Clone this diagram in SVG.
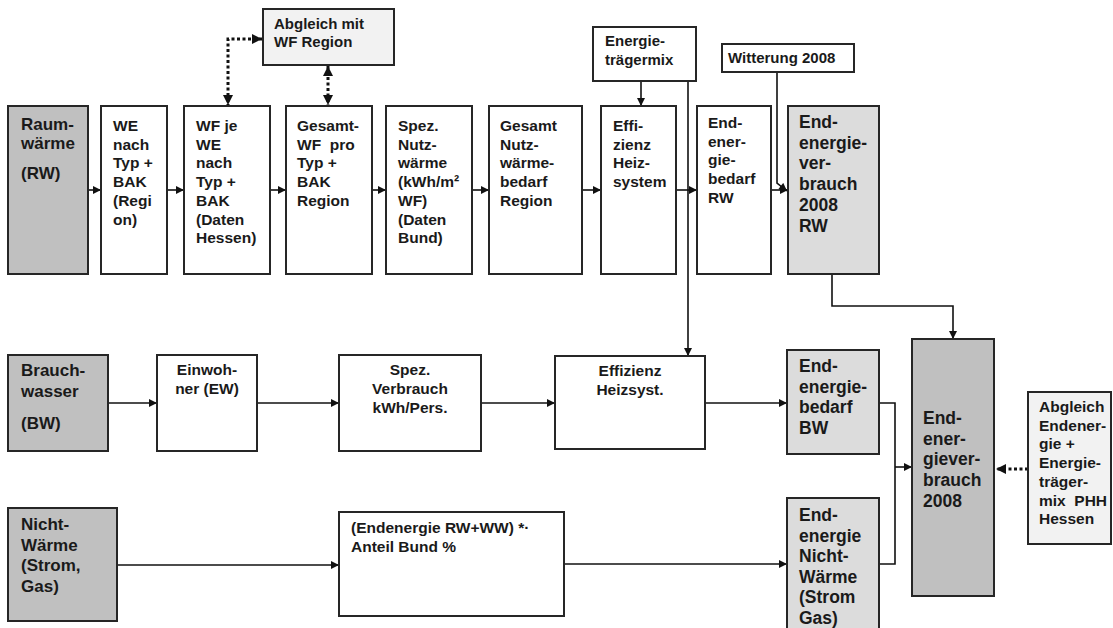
<svg xmlns="http://www.w3.org/2000/svg" width="1113" height="628" viewBox="0 0 1113 628">
<style>
  .box{stroke:#262626;stroke-width:2;}
  .w{fill:#ffffff;}
  .g1{fill:#c0c0c0;}
  .g2{fill:#dcdcdc;}
  .g3{fill:#f2f2f2;}
  text{font-family:"Liberation Sans",Arial,sans-serif;font-weight:bold;fill:#1a1a1a;white-space:pre;}
  .s{font-size:15.5px;}
  .m{font-size:15px;}
  .l{font-size:17px;}
  .xl{font-size:17.5px;}
  .c{text-anchor:middle;}
  .ln{fill:none;stroke:#111;stroke-width:1.6;}
  .dot{fill:none;stroke:#111;stroke-width:3;stroke-dasharray:3 2.5;}
</style>
<defs>
  <marker id="ah" viewBox="0 0 10 10" refX="10" refY="5" markerWidth="9" markerHeight="8" markerUnits="userSpaceOnUse" orient="auto-start-reverse">
    <path d="M0,0 L10,5 L0,10 z" fill="#111"/>
  </marker>
  <marker id="ahd" viewBox="0 0 10 10" refX="10" refY="5" markerWidth="10" markerHeight="10" markerUnits="userSpaceOnUse" orient="auto-start-reverse">
    <path d="M0,0 L10,5 L0,10 z" fill="#111"/>
  </marker>
</defs>
<rect width="1113" height="628" fill="#ffffff"/>

<g id="connectors">
  <line class="ln" x1="88" y1="190" x2="101" y2="190" marker-end="url(#ah)"/>
  <line class="ln" x1="167" y1="190" x2="184" y2="190" marker-end="url(#ah)"/>
  <line class="ln" x1="270" y1="190" x2="286" y2="190" marker-end="url(#ah)"/>
  <line class="ln" x1="372" y1="190" x2="386" y2="190" marker-end="url(#ah)"/>
  <line class="ln" x1="472" y1="190" x2="489" y2="190" marker-end="url(#ah)"/>
  <line class="ln" x1="582" y1="190" x2="601" y2="190" marker-end="url(#ah)"/>
  <line class="ln" x1="676" y1="190" x2="697" y2="190" marker-end="url(#ah)"/>
  <line class="ln" x1="771" y1="190" x2="788" y2="190" marker-end="url(#ah)"/>
  <path class="ln" d="M777,72 V183 L787,191" marker-end="url(#ah)"/>
  <line class="ln" x1="641" y1="81" x2="641" y2="106" marker-end="url(#ah)"/>
  <line class="ln" x1="688" y1="81" x2="688" y2="356" marker-end="url(#ah)"/>
  <path class="dot" d="M262,39 H228 V105" marker-start="url(#ahd)" marker-end="url(#ahd)"/>
  <path class="dot" d="M328,66 V105" marker-start="url(#ahd)" marker-end="url(#ahd)"/>
  <path class="ln" d="M832,274 V306 H953 V339" marker-end="url(#ah)"/>
  <line class="ln" x1="108" y1="403" x2="157" y2="403" marker-end="url(#ah)"/>
  <line class="ln" x1="257" y1="403" x2="339" y2="403" marker-end="url(#ah)"/>
  <line class="ln" x1="481" y1="403" x2="555" y2="403" marker-end="url(#ah)"/>
  <line class="ln" x1="705" y1="403" x2="787" y2="403" marker-end="url(#ah)"/>
  <path class="ln" d="M879,403 H895 V564 H879"/>
  <line class="ln" x1="895" y1="467" x2="912" y2="467" marker-end="url(#ah)"/>
  <line class="ln" x1="117" y1="565" x2="339" y2="565" marker-end="url(#ah)"/>
  <line class="ln" x1="564" y1="564" x2="787" y2="564" marker-end="url(#ah)"/>
  <line class="dot" x1="1028" y1="469" x2="996" y2="469" marker-end="url(#ahd)"/>
</g>

<g id="n-raumwaerme">
  <rect class="box g1" x="8" y="106" width="80" height="168"/>
  <text class="l"><tspan x="21" y="130">Raum-</tspan><tspan x="21" y="149">wärme</tspan><tspan x="21" y="179">(RW)</tspan></text>
</g>
<g id="n-we">
  <rect class="box w" x="101" y="106" width="66" height="168"/>
  <text class="s"><tspan x="113" y="131">WE</tspan><tspan x="113" y="149.7">nach</tspan><tspan x="113" y="168.4">Typ +</tspan><tspan x="113" y="187.1">BAK</tspan><tspan x="113" y="205.8">(Regi</tspan><tspan x="113" y="224.5">on)</tspan></text>
</g>
<g id="n-wfje">
  <rect class="box w" x="184" y="106" width="86" height="168"/>
  <text class="s"><tspan x="196" y="131">WF je</tspan><tspan x="196" y="149.7">WE</tspan><tspan x="196" y="168.4">nach</tspan><tspan x="196" y="187.1">Typ +</tspan><tspan x="196" y="205.8">BAK</tspan><tspan x="196" y="224.5">(Daten</tspan><tspan x="196" y="243.2">Hessen)</tspan></text>
</g>
<g id="n-abgleich-wf">
  <rect class="box g3" x="263" y="9" width="131" height="56"/>
  <text class="m"><tspan x="274" y="29">Abgleich mit</tspan><tspan x="274" y="47">WF Region</tspan></text>
</g>
<g id="n-gesamtwf">
  <rect class="box w" x="286" y="106" width="86" height="168"/>
  <text class="s"><tspan x="297" y="131">Gesamt-</tspan><tspan x="297" y="149.7">WF  pro</tspan><tspan x="297" y="168.4">Typ +</tspan><tspan x="297" y="187.1">BAK</tspan><tspan x="297" y="205.8">Region</tspan></text>
</g>
<g id="n-speznutz">
  <rect class="box w" x="386" y="106" width="86" height="168"/>
  <text class="s"><tspan x="398" y="131">Spez.</tspan><tspan x="398" y="149.7">Nutz-</tspan><tspan x="398" y="168.4">wärme</tspan><tspan x="398" y="187.1">(kWh/m²</tspan><tspan x="398" y="205.8">WF)</tspan><tspan x="398" y="224.5">(Daten</tspan><tspan x="398" y="243.2">Bund)</tspan></text>
</g>
<g id="n-gesamtnutz">
  <rect class="box w" x="489" y="106" width="93" height="168"/>
  <text class="s"><tspan x="500" y="131">Gesamt</tspan><tspan x="500" y="149.7">Nutz-</tspan><tspan x="500" y="168.4">wärme-</tspan><tspan x="500" y="187.1">bedarf</tspan><tspan x="500" y="205.8">Region</tspan></text>
</g>
<g id="n-energietraegermix">
  <rect class="box w" x="593" y="27" width="103" height="54"/>
  <text class="m"><tspan x="605" y="46">Energie-</tspan><tspan x="605" y="64.5">trägermix</tspan></text>
</g>
<g id="n-effizienz-rw">
  <rect class="box w" x="601" y="106" width="75" height="168"/>
  <text class="s"><tspan x="613" y="131">Effi-</tspan><tspan x="613" y="149.7">zienz</tspan><tspan x="613" y="168.4">Heiz-</tspan><tspan x="613" y="187.1">system</tspan></text>
</g>
<g id="n-witterung">
  <rect class="box w" x="722" y="44" width="132" height="28"/>
  <text class="m"><tspan x="728" y="63">Witterung 2008</tspan></text>
</g>
<g id="n-endbedarf-rw">
  <rect class="box w" x="697" y="106" width="74" height="168"/>
  <text class="s"><tspan x="708" y="128">End-</tspan><tspan x="708" y="146.7">ener-</tspan><tspan x="708" y="165.4">gie-</tspan><tspan x="708" y="184.1">bedarf</tspan><tspan x="708" y="202.8">RW</tspan></text>
</g>
<g id="n-endverbrauch-rw">
  <rect class="box g2" x="788" y="106" width="91" height="168"/>
  <text class="xl"><tspan x="799" y="128">End-</tspan><tspan x="799" y="148.7">energie-</tspan><tspan x="799" y="169.4">ver-</tspan><tspan x="799" y="190.1">brauch</tspan><tspan x="799" y="210.8">2008</tspan><tspan x="799" y="231.5">RW</tspan></text>
</g>

<g id="n-brauchwasser">
  <rect class="box g1" x="8" y="355" width="100" height="96"/>
  <text class="l"><tspan x="21" y="376">Brauch-</tspan><tspan x="21" y="397">wasser</tspan><tspan x="21" y="429">(BW)</tspan></text>
</g>
<g id="n-einwohner">
  <rect class="box w" x="157" y="355" width="100" height="96"/>
  <text class="s c"><tspan x="207" y="375">Einwoh-</tspan><tspan x="207" y="394">ner (EW)</tspan></text>
</g>
<g id="n-spezverbrauch">
  <rect class="box w" x="339" y="355" width="142" height="96"/>
  <text class="s c"><tspan x="410" y="375">Spez.</tspan><tspan x="410" y="394">Verbrauch</tspan><tspan x="410" y="413">kWh/Pers.</tspan></text>
</g>
<g id="n-effizienz-bw">
  <rect class="box w" x="555" y="356" width="150" height="93"/>
  <text class="s c"><tspan x="630" y="376">Effizienz</tspan><tspan x="630" y="395">Heizsyst.</tspan></text>
</g>
<g id="n-endbedarf-bw">
  <rect class="box g2" x="787" y="350" width="92" height="104"/>
  <text class="xl"><tspan x="799" y="372">End-</tspan><tspan x="799" y="392.7">energie-</tspan><tspan x="799" y="413.4">bedarf</tspan><tspan x="799" y="434.1">BW</tspan></text>
</g>
<g id="n-endverbrauch">
  <rect class="box g1" x="912" y="339" width="82" height="257"/>
  <text class="xl"><tspan x="923" y="424">End-</tspan><tspan x="923" y="444.7">ener-</tspan><tspan x="923" y="465.4">giever-</tspan><tspan x="923" y="486.1">brauch</tspan><tspan x="923" y="506.8">2008</tspan></text>
</g>
<g id="n-abgleich-end">
  <rect class="box g3" x="1028" y="392" width="83" height="152"/>
  <text class="s"><tspan x="1039" y="412">Abgleich</tspan><tspan x="1039" y="430.7">Endener-</tspan><tspan x="1039" y="449.4">gie +</tspan><tspan x="1039" y="468.1">Energie-</tspan><tspan x="1039" y="486.8">träger-</tspan><tspan x="1039" y="505.5">mix  PHH</tspan><tspan x="1039" y="524.2">Hessen</tspan></text>
</g>

<g id="n-nichtwaerme">
  <rect class="box g1" x="8" y="508" width="109" height="113"/>
  <text class="l"><tspan x="21" y="530">Nicht-</tspan><tspan x="21" y="550.5">Wärme</tspan><tspan x="21" y="571">(Strom,</tspan><tspan x="21" y="591.5">Gas)</tspan></text>
</g>
<g id="n-anteil">
  <rect class="box w" x="339" y="512" width="225" height="104"/>
  <text class="s"><tspan x="351" y="533">(Endenergie RW+WW) *·</tspan><tspan x="351" y="552">Anteil Bund %</tspan></text>
</g>
<g id="n-end-nichtwaerme">
  <rect class="box g2" x="787" y="498" width="92" height="145"/>
  <text class="xl"><tspan x="799" y="521">End-</tspan><tspan x="799" y="541.5">energie</tspan><tspan x="799" y="562">Nicht-</tspan><tspan x="799" y="582.5">Wärme</tspan><tspan x="799" y="603">(Strom</tspan><tspan x="799" y="623.5">Gas)</tspan></text>
</g>
</svg>
